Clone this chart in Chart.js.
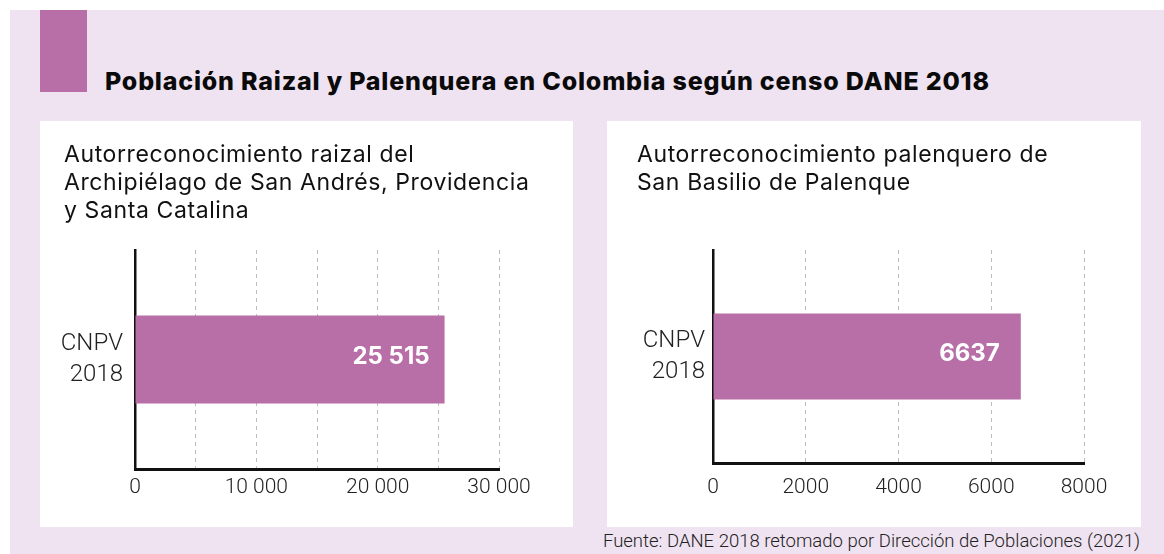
<!DOCTYPE html>
<html lang="es">
<head>
<meta charset="utf-8">
<script src="https://cdn.jsdelivr.net/npm/chart.js@4.4.1/dist/chart.umd.min.js"></script>
<style>
  body { margin: 0; width: 1164px; height: 554px; background: #fff; position: relative; overflow: hidden; font-family: Roboto, sans-serif; }
  .bg { position: absolute; left: 10px; top: 10px; right: 0; bottom: 0; background: #efe3f1; }
  .accent { position: absolute; left: 40px; top: 10px; width: 47px; height: 82px; background: #b86fa8; }
  h1 { position: absolute; left: 105px; top: 66px; margin: 0; font: 800 25px/30px Inter, sans-serif; letter-spacing: 0.8px; color: #0a0a0a; white-space: nowrap; }
  .panel { position: absolute; top: 121px; height: 406px; background: #fff; }
  .panel h2 { position: absolute; top: 19px; margin: 0; font: 400 23px/28px Inter, sans-serif; letter-spacing: 0.6px; color: #111; white-space: nowrap; }
  .panel canvas { position: absolute; left: 0; top: 0; }
  .src { position: absolute; right: 24px; top: 530px; font: 300 18.5px/22px Roboto, sans-serif; color: #222; white-space: nowrap; }
</style>
</head>
<body>
<div class="bg"></div>
<div class="accent"></div>
<h1>Población Raizal y Palenquera en Colombia según censo DANE 2018</h1>

<div class="panel" style="left:40px;width:533px">
  <canvas id="raizal" width="533" height="406"></canvas>
  <h2 style="left:24px">Autorreconocimiento raizal del<br>Archipiélago de San Andrés, Providencia<br>y Santa Catalina</h2>
</div>
<div class="panel" style="left:607px;width:534px">
  <canvas id="palenquero" width="534" height="406"></canvas>
  <h2 style="left:30px">Autorreconocimiento palenquero de<br>San Basilio de Palenque</h2>
</div>
<div class="src">Fuente: DANE 2018 retomado por Dirección de Poblaciones (2021)</div>

<script>
const categories = [['CNPV', '2018']];
const raizalValues = [25515];
const palenqueroValues = [6637];
const raizalTickLabels = [0, 10000, 20000, 30000];
const palenqueroTickLabels = [0, 2000, 4000, 6000, 8000];

const barColor = '#b86fa8';

// 10 000 style grouping only from five digits up (6637 stays as is)
function fmt(v) {
    return v >= 10000 ? String(v).replace(/\B(?=(\d{3})+(?!\d))/g, ' ') : String(v);
}

const valueLabels = {
    id: 'valueLabels',
    afterDatasetsDraw(chart, args, opts) {
        const ctx = chart.ctx;
        chart.getDatasetMeta(0).data.forEach((bar, i) => {
            ctx.save();
            ctx.font = '700 24px Inter';
            ctx.fillStyle = '#fff';
            ctx.textAlign = 'right';
            ctx.textBaseline = 'middle';
            ctx.fillText(fmt(chart.data.datasets[0].data[i]), bar.x - opts.inset, bar.y - 3);
            ctx.restore();
        });
    }
};

function makeChart(id, values, o) {
    return new Chart(document.getElementById(id), {
        type: 'bar',
        data: {
            labels: categories,
            datasets: [{ data: values, backgroundColor: barColor, barPercentage: o.barPct, categoryPercentage: 1 }]
        },
        options: {
            indexAxis: 'y',
            responsive: false,
            animation: false,
            devicePixelRatio: 1,
            layout: { padding: { top: 129, right: o.padRight, left: 0, bottom: 0 } },
            plugins: { legend: { display: false }, tooltip: { enabled: false }, valueLabels: { inset: o.inset } },
            scales: {
                x: {
                    min: 0,
                    max: o.max,
                    afterFit: s => { s.height = o.xHeight; },
                    ticks: {
                        stepSize: o.step, autoSkip: false, maxRotation: 0, padding: o.tickPad, color: '#222',
                        font: { family: 'Roboto', size: 21, weight: '300' },
                        callback: v => o.labelled.includes(v) ? fmt(v) : ''
                    },
                    grid: { color: '#bdbdbd', lineWidth: 1, drawTicks: false },
                    border: { color: '#111', width: 3, dash: [4, 4] }
                },
                y: {
                    afterFit: s => { s.width = o.yWidth; },
                    ticks: { padding: o.yPad, color: '#222', font: { family: 'Roboto', size: 24, weight: '300', lineHeight: 1.3 } },
                    grid: { display: false, drawTicks: false },
                    border: { color: '#111', width: 2.5 }
                }
            }
        },
        plugins: [valueLabels]
    });
}

Promise.all([
    document.fonts.load('700 24px Inter'),
    document.fonts.load('300 21px Roboto'),
    document.fonts.load('800 23px Inter')
]).catch(() => {}).then(() => {
    makeChart('raizal', raizalValues, {
        max: 30000, step: 5000, labelled: raizalTickLabels,
        padRight: 74, yWidth: 95, xHeight: 58, tickPad: 6, yPad: 12, barPct: 0.402, inset: 15
    });
    makeChart('palenquero', palenqueroValues, {
        max: 8000, step: 2000, labelled: palenqueroTickLabels,
        padRight: 57, yWidth: 106, xHeight: 64, tickPad: 12, yPad: 8, barPct: 0.404, inset: 21
    });
});
</script>
</body>
</html>
